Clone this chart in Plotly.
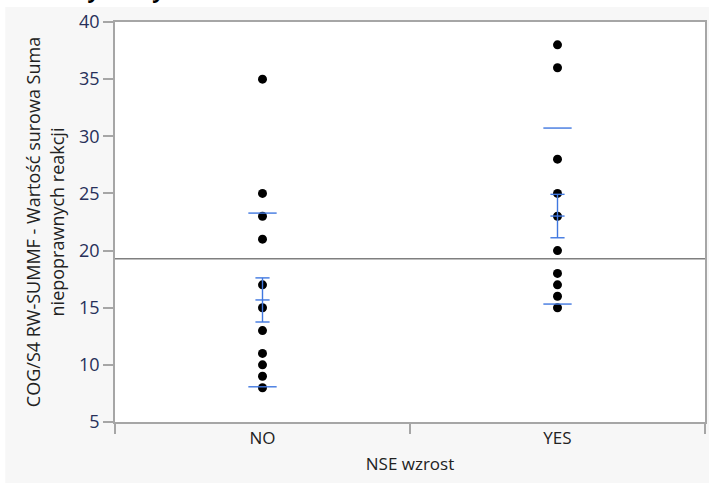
import plotly.graph_objects as go

# ---- data ----
groups = ["NO", "YES"]
no_values = [35, 25, 23, 21, 17, 15, 13, 11, 10, 9, 8]
yes_values = [38, 36, 28, 25, 23, 20, 18, 17, 16, 15]
group_means = [15.68, 23.02]
group_sd = [7.6, 7.7]
group_se = [1.93, 1.9]
grand_mean = 19.28
y_ticks = [5, 10, 15, 20, 25, 30, 35, 40]

BLUE = "#4078e0"
FONT = "Open Sans"

fig = go.Figure()

# points
for g, vals in zip(groups, [no_values, yes_values]):
    fig.add_trace(go.Scatter(
        x=[g] * len(vals), y=vals, mode="markers",
        marker=dict(color="black", size=9),
        showlegend=False, hoverinfo="y"))

# grand mean line (on numeric overlay axis)
fig.add_trace(go.Scatter(
    x=[-0.5, 1.5], y=[grand_mean, grand_mean], mode="lines",
    line=dict(color="#7f7f7f", width=1.5), xaxis="x2",
    showlegend=False, hoverinfo="skip"))

cap = 0.024   # half width of error-bar caps
sdw = 0.048   # half width of std dev lines
for i, (m, s, e) in enumerate(zip(group_means, group_sd, group_se)):
    xs, ys = [], []
    for v in (m + s, m - s):
        xs += [i - sdw, i + sdw, None]
        ys += [v, v, None]
    xs += [i, i, None]
    ys += [m - e, m + e, None]
    for v in (m - e, m, m + e):
        xs += [i - cap, i + cap, None]
        ys += [v, v, None]
    fig.add_trace(go.Scatter(
        x=xs, y=ys, mode="lines", line=dict(color=BLUE, width=1.4),
        xaxis="x2", showlegend=False, hoverinfo="skip"))

# partially visible title at the very top
fig.add_annotation(
    text="<b>Oneway Analysis of COG/S4 RW-SUMMF - Wartość surowa Suma niepoprawnych reakcji By NSE wzrost</b>",
    xref="paper", yref="paper", x=-0.175, y=1.04, xanchor="left", yanchor="bottom",
    showarrow=False, font=dict(family=FONT, size=21, color="black"))

# white outer strips (reference shows a framed grey panel)
for x0, x1, y0, y1 in [(-1, 2, 1.0375, 2), (-1, -0.186, -1, 2), (-1, 2, -1, -0.1525)]:
    fig.add_shape(type="rect", xref="paper", yref="paper", x0=x0, x1=x1, y0=y0, y1=y1,
                  fillcolor="white", line=dict(width=0), layer="below")

fig.update_layout(
    width=709, height=486,
    margin=dict(l=115, r=4, t=22, b=64),
    paper_bgcolor="#f7f7f7", plot_bgcolor="white",
    font=dict(family=FONT, size=18, color="#222222"),
    xaxis=dict(
        type="category", categoryorder="array", categoryarray=groups,
        range=[-0.5, 1.5], tickson="boundaries", ticks="outside", ticklen=10,
        tickcolor="#a6a6a6", tickwidth=1.5, automargin=False,
        showline=True, linecolor="#a6a6a6", linewidth=1.5, mirror=True,
        showgrid=False, zeroline=False,
        tickfont=dict(size=17, color="#222222"),
        title=dict(text="NSE wzrost", font=dict(size=17, color="#222222"), standoff=10)),
    xaxis2=dict(overlaying="x", range=[-0.5, 1.5], visible=False),
    yaxis=dict(
        range=[5, 40], tickvals=y_ticks, ticks="outside", ticklen=10,
        tickcolor="#a6a6a6", tickwidth=1.5, automargin=False,
        showline=True, linecolor="#a6a6a6", linewidth=1.5, mirror=True,
        showgrid=False, zeroline=False,
        tickfont=dict(size=18, color="#27305a"),
        title=dict(text="COG/S4 RW-SUMMF - Wartość surowa Suma<br>niepoprawnych reakcji",
                   font=dict(size=18, color="#222222"), standoff=10)),
)

fig.write_html(
    "out.html",
    config={"displayModeBar": False},
    post_script="document.body.style.margin='0';document.body.style.padding='0';"
                "document.documentElement.style.overflow='hidden';",
)
